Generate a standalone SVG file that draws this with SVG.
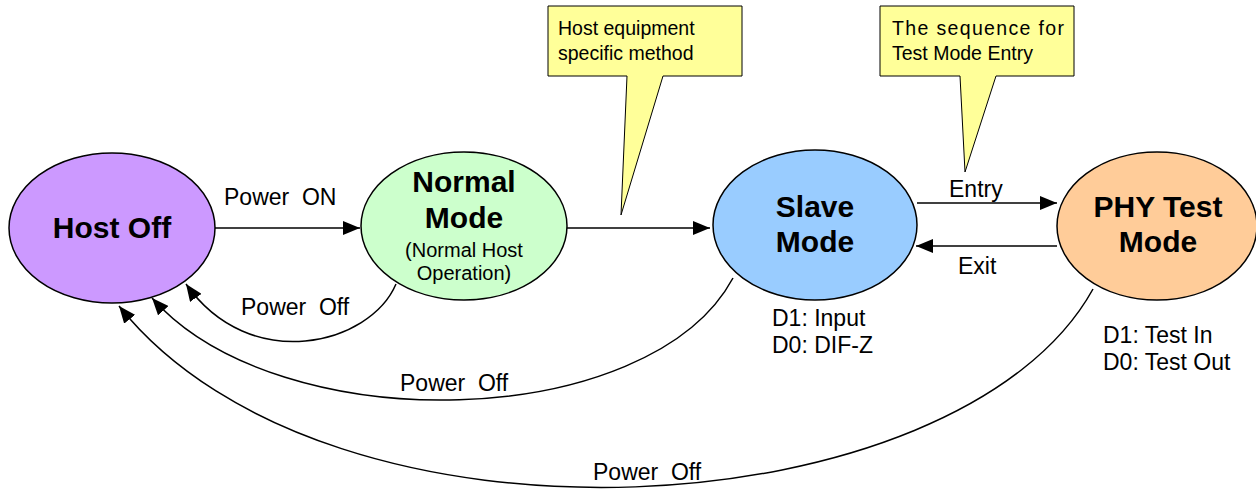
<svg xmlns="http://www.w3.org/2000/svg" width="1256" height="489" viewBox="0 0 1256 489">
<style>
.node{stroke:#000;stroke-width:1.5}
.b{font-family:"Liberation Sans",Arial,sans-serif;font-weight:bold;font-size:30px;text-anchor:middle;fill:#000}
.s{font-family:"Liberation Sans",Arial,sans-serif;font-size:20px;text-anchor:middle;fill:#000}
.l{font-family:"Liberation Sans",Arial,sans-serif;font-size:23px;fill:#000}
.c{font-family:"Liberation Sans",Arial,sans-serif;font-size:19.5px;fill:#000}
.e{fill:none;stroke:#000;stroke-width:1.5}
.call{fill:#FFFF99;stroke:#000;stroke-width:1}
</style>
<defs>
<marker id="ah" markerUnits="userSpaceOnUse" markerWidth="18" markerHeight="14" refX="17" refY="7" orient="auto">
<path d="M0,0 L17,7 L0,14 z" fill="#000"/>
</marker>
</defs>
<rect width="1256" height="489" fill="#fff"/>
<g id="connectors">
<path class="e" d="M215,228 H360" marker-end="url(#ah)"/>
<path class="e" d="M567,228 H710" marker-end="url(#ah)"/>
<path class="e" d="M917,203 H1057" marker-end="url(#ah)"/>
<path class="e" d="M1057,246 H916" marker-end="url(#ah)"/>
<path class="e" d="M396,284 C370,345 250,375 186,284" marker-end="url(#ah)"/>
<path class="e" d="M733,278 C650,432 280,442 152,298" marker-end="url(#ah)"/>
<path class="e" d="M1093,289 C960,530 330,570 119,306" marker-end="url(#ah)"/>
<text class="l" x="224" y="205" xml:space="preserve">Power  ON</text>
<text class="l" x="241" y="315" xml:space="preserve">Power  Off</text>
<text class="l" x="400" y="391" xml:space="preserve">Power  Off</text>
<text class="l" x="593" y="480" xml:space="preserve">Power  Off</text>
<text class="l" x="949" y="197">Entry</text>
<text class="l" x="958" y="274">Exit</text>
</g>
<g id="host-off">
<ellipse class="node" cx="112" cy="228" rx="103" ry="75" fill="#CC99FF"/>
<text class="b" x="112" y="238">Host Off</text>
</g>
<g id="normal-mode">
<ellipse class="node" cx="464" cy="226" rx="103" ry="74" fill="#CCFFCC"/>
<text class="b" x="464" y="192">Normal</text>
<text class="b" x="464" y="228">Mode</text>
<text class="s" x="464" y="257">(Normal Host</text>
<text class="s" x="464" y="280">Operation)</text>
</g>
<g id="slave-mode">
<ellipse class="node" cx="815" cy="225" rx="102" ry="75" fill="#99CCFF"/>
<text class="b" x="815" y="217">Slave</text>
<text class="b" x="815" y="252">Mode</text>
<text class="l" x="772" y="326">D1: Input</text>
<text class="l" x="772" y="353">D0: DIF-Z</text>
</g>
<g id="phy-test-mode">
<ellipse class="node" cx="1157" cy="226" rx="100" ry="74" fill="#FFCC99"/>
<text class="b" x="1158" y="217">PHY Test</text>
<text class="b" x="1158" y="252">Mode</text>
<text class="l" x="1103" y="343">D1: Test In</text>
<text class="l" x="1103" y="370">D0: Test Out</text>
</g>
<g id="callout-host">
<path class="call" d="M548,6 H742 V76 H663 L621,215 L627,76 H548 Z"/>
<text class="c" x="558" y="35">Host equipment</text>
<text class="c" x="558" y="60">specific method</text>
</g>
<g id="callout-test">
<path class="call" d="M880,6 H1074 V76 H996 L965,172 L960,76 H880 Z"/>
<text class="c" x="892" y="35" textLength="172" lengthAdjust="spacing">The sequence for</text>
<text class="c" x="892" y="60">Test Mode Entry</text>
</g>
</svg>
